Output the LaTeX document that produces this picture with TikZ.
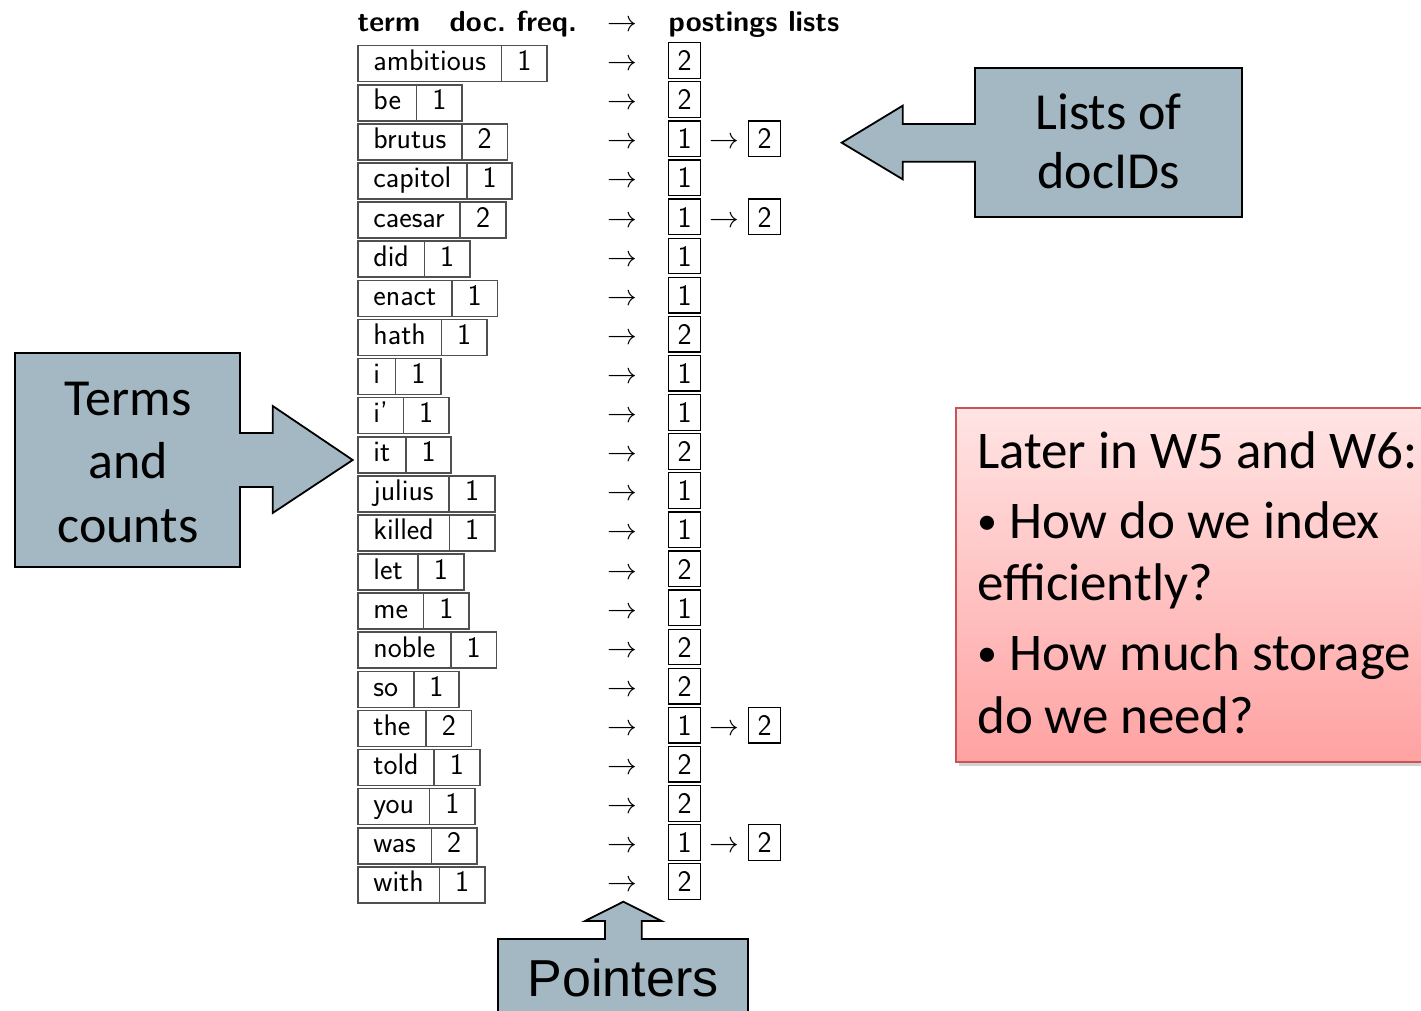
\RequirePackage{fix-cm}
\documentclass[tikz,border=0pt]{standalone}
\usepackage{fontspec}
\newfontfamily\carlito{Carlito}
\newfontfamily\arialf{Liberation Sans}
\definecolor{calfill}{RGB}{163,184,194}
\definecolor{tgray}{RGB}{80,80,80}
\definecolor{redtop}{RGB}{255,228,228}
\definecolor{redbot}{RGB}{255,162,162}
\definecolor{redborder}{RGB}{200,85,85}
\newcommand\tabfont{\sffamily\fontsize{29.8}{34}\selectfont}
\newcommand\hdfont{\sffamily\bfseries\fontsize{29}{34}\selectfont}
\newcommand\calfont{\carlito\fontsize{52}{60}\selectfont}
\newcommand\redfont{\carlito\fontsize{53}{62}\selectfont}
\newcommand\smbullet{{\fontsize{40}{44}\selectfont\raisebox{3.5pt}{•}}}
\tikzset{
  termbox/.style={draw=tgray, line width=1.6pt, font=\tabfont, inner xsep=15.6pt, inner ysep=0pt,
    outer sep=0pt, text height=25pt, text depth=11pt, anchor=base west},
  freqbox/.style={termbox, minimum width=45.5pt, inner xsep=0pt},
  postbox/.style={draw=black, line width=1.3pt, font=\tabfont, inner sep=0pt, outer sep=0pt,
    minimum width=31.5pt, text height=28pt, text depth=7.6pt, anchor=base west},
  ptr/.style={font=\tabfont, inner sep=0pt, anchor=base},
  hdr/.style={font=\hdfont, inner sep=0pt, anchor=base west},
  callout/.style={fill=calfill, draw=black, line width=1.8pt, line join=miter},
  caltext/.style={font=\calfont, inner sep=0pt, anchor=base},
  redtext/.style={font=\redfont, inner sep=0pt, anchor=base west},
}
\begin{document}
\begin{tikzpicture}[x=1pt,y=-1pt]
\path[use as bounding box, fill=white] (0,0) rectangle (1421,1011);
\clip (0,0) rectangle (1421,1011);

% header
\node[hdr] (hterm) at (357.5,31.7) {term};
\node[hdr] (hfreq) at (449.5,31.7) {doc.\ freq.};
\node[ptr] (harr) at (622.5,31.7) {$\rightarrow$};
\node[hdr] (hpost) at (668.5,31.7) {postings lists};

% rows
\foreach \t/\f/\pa/\pb [count=\i from 0] in {
  ambitious/1/2/, be/1/2/, brutus/2/1/2, capitol/1/1/, caesar/2/1/2, did/1/1/,
  enact/1/1/, hath/1/2/, i/1/1/, i’/1/1/, it/1/2/, julius/1/1/, killed/1/1/,
  let/1/2/, me/1/1/, noble/1/2/, so/1/2/, the/2/1/2, told/1/2/, you/1/2/,
  was/2/1/2, with/1/2/}{
  \pgfmathsetmacro\yy{70.7+39.1*\i}
  \node[termbox] (term\i) at (357.8,\yy) {\t};
  \node[freqbox] (freq\i) at (term\i.base east) {\f};
  \node[ptr] (arr\i) at (622.5,\yy) {$\rightarrow$};
  \node[postbox] (post\i) at (668.8,\yy) {\pa};
  \ifx\pb\empty\else
    \node[ptr] (arrb\i) at (724.2,\yy) {$\rightarrow$};
    \node[postbox] (postb\i) at (748.8,\yy) {\pb};
  \fi
}

% callout: Terms and counts
\path[callout] (15,353) -- (240,353) -- (240,433) -- (272.7,433) -- (272.7,406) -- (352.7,460)
  -- (272.7,513) -- (272.7,487) -- (240,487) -- (240,567) -- (15,567) -- cycle;
\node[caltext] (tc1) at (128,415) {Terms};
\node[caltext] (tc2) at (128,478.5) {and};
\node[caltext] (tc3) at (128,542) {counts};

% callout: Lists of docIDs
\path[callout] (975,68) -- (1242,68) -- (1242,217) -- (975,217) -- (975,161.7) -- (902.7,161.7)
  -- (902.7,179.3) -- (841.7,142.7) -- (902.7,105.7) -- (902.7,124) -- (975,124) -- cycle;
\node[caltext] (ld1) at (1108.5,130) {Lists of};
\node[caltext] (ld2) at (1108.5,188.5) {docIDs};

% callout: Pointers
\path[callout] (498,1030) -- (498,939) -- (605,939) -- (605,921) -- (585,921) -- (623.3,901.7)
  -- (661.7,921) -- (641.7,921) -- (641.7,939) -- (748,939) -- (748,1030) -- cycle;
\node[font=\arialf\fontsize{52}{60}\selectfont, inner sep=0pt, anchor=base] (ptrs) at (623,996) {Pointers};

% red box
\fill[black, opacity=0.18] (959,411) rectangle (1445,766);
\shade[top color=redtop, bottom color=redbot] (956,408) rectangle (1440,762);
\draw[redborder, line width=1.8pt] (956,408) rectangle (1440,762);
\node[redtext] (r1) at (977,468) {Later in W5 and W6:};
\node[redtext] (r2) at (977,538) {\smbullet\ How do we index};
\node[redtext] (r3) at (977,600) {efficiently?};
\node[redtext] (r4) at (977,670) {\smbullet\ How much storage};
\node[redtext] (r5) at (977,733) {do we need?};
\end{tikzpicture}
\end{document}
